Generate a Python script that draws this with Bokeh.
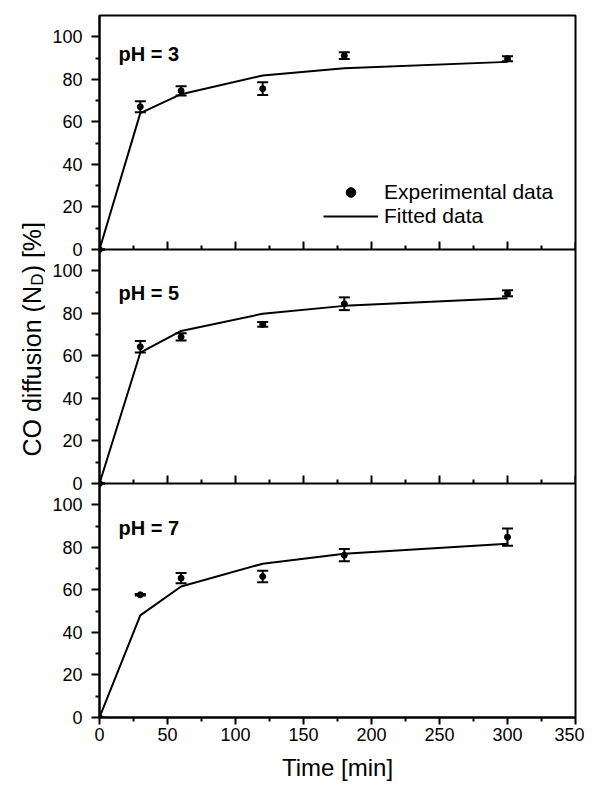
import math
from bokeh.plotting import figure
from bokeh.layouts import row
from bokeh.models import (Range1d, LinearAxis, FixedTicker, Span, Label, Legend,
                          LegendItem, ColumnDataSource, Whisker, TeeHead)
from bokeh.embed import file_html
from bokeh.resources import INLINE

# ---------------- data ----------------
time_min = [0, 30, 60, 120, 180, 300]

exp_ph3 = [0, 67.1, 74.6, 75.6, 91.1, 89.7]
err_ph3 = [0, 2.6, 2.2, 3.0, 1.6, 1.2]
fit_ph3 = [0, 64.1, 73.0, 81.8, 85.2, 88.2]

exp_ph5 = [0, 64.3, 68.9, 74.8, 84.5, 89.4]
err_ph5 = [0, 2.7, 1.7, 1.1, 3.0, 1.4]
fit_ph5 = [0, 61.5, 71.7, 79.8, 83.5, 87.1]

exp_ph7 = [0, 57.7, 65.5, 66.3, 76.3, 84.8]
err_ph7 = [0, 0.4, 2.4, 2.7, 2.9, 4.1]
fit_ph7 = [0, 48.0, 61.6, 72.3, 77.0, 81.7]

panel_titles = ["pH = 3", "pH = 5", "pH = 7"]

y_major = [0, 20, 40, 60, 80, 100]
y_minor = [10, 30, 50, 70, 90]
y_tick_labels = ["0", "20", "40", "60", "80", "100"]
panel_span = 110

x_major = [0, 50, 100, 150, 200, 250, 300, 350]
x_minor = [25, 75, 125, 175, 225, 275, 325]
x_tick_labels = ["0", "50", "100", "150", "200", "250", "300", "350"]

FONT = "Liberation Sans"
TOTAL_W, TOTAL_H = 584, 783
LAB_W = 45
BORDER_TOP, BORDER_BOTTOM = 15, 66

panels = [
    (panel_titles[0], exp_ph3, err_ph3, fit_ph3),
    (panel_titles[1], exp_ph5, err_ph5, fit_ph5),
    (panel_titles[2], exp_ph7, err_ph7, fit_ph7),
]
n_pan = len(panels)
total = panel_span * n_pan

p = figure(width=TOTAL_W - LAB_W, height=TOTAL_H, output_backend="svg",
           toolbar_location=None,
           x_range=Range1d(0, 350), y_range=Range1d(0, total),
           min_border_left=99 - LAB_W, min_border_right=9, min_border_top=BORDER_TOP,
           min_border_bottom=BORDER_BOTTOM, x_axis_type=None, y_axis_type=None)
p.grid.visible = False
p.outline_line_color = "black"
p.outline_line_width = 2
p.background_fill_color = "white"
p.border_fill_color = "white"

# y axis: one axis, ticks repeated per panel
yt_major, yt_minor, overrides = [], [], {}
for k in range(n_pan):
    off = panel_span * k
    for v, lab in zip(y_major, y_tick_labels):
        yt_major.append(v + off)
        overrides[v + off] = lab
    for v in y_minor:
        yt_minor.append(v + off)
yax = LinearAxis(ticker=FixedTicker(ticks=yt_major, minor_ticks=yt_minor),
                 major_label_overrides=overrides)
yax.axis_line_width = 2
yax.major_tick_line_width = 2
yax.minor_tick_line_width = 2
yax.major_tick_out = 8
yax.major_tick_in = 0
yax.minor_tick_out = 4
yax.minor_tick_in = 0
yax.major_label_standoff = 9
yax.major_label_text_font = FONT
yax.major_label_text_font_size = "18px"
yax.major_label_text_color = "black"
p.add_layout(yax, "left")

xticker = FixedTicker(ticks=x_major, minor_ticks=x_minor)
xax = LinearAxis(ticker=xticker, axis_label="Time [min]",
                 major_label_overrides=dict(zip(x_major, x_tick_labels)))
xax.axis_line_width = 2
xax.major_tick_line_width = 2
xax.minor_tick_line_width = 2
xax.major_tick_out = 7
xax.major_tick_in = 0
xax.minor_tick_out = 4
xax.minor_tick_in = 0
xax.major_label_standoff = 3
xax.axis_label_standoff = 10
xax.major_label_text_font = FONT
xax.major_label_text_font_size = "18px"
xax.major_label_text_color = "black"
xax.axis_label_text_font = FONT
xax.axis_label_text_font_size = "24px"
xax.axis_label_text_font_style = "normal"
xax.axis_label_text_color = "black"
p.add_layout(xax, "below")

title_y = [664, 425, 190]
legend_renderers = None
for i, (title, exp, err, fit) in enumerate(panels):
    k = n_pan - 1 - i
    rname = "panel%d" % k
    p.extra_y_ranges[rname] = Range1d(-panel_span * k, total - panel_span * k)
    src = ColumnDataSource(dict(t=time_min, y=exp, fit=fit,
                                lo=[a - b for a, b in zip(exp, err)],
                                hi=[a + b for a, b in zip(exp, err)]))
    ln = p.line("t", "fit", source=src, line_color="black", line_width=2,
                y_range_name=rname)
    wh = Whisker(source=src, base="t", lower="lo", upper="hi", dimension="height",
                 line_color="black", line_width=2, y_range_name=rname,
                 lower_head=TeeHead(size=11, line_width=2, line_color="black"),
                 upper_head=TeeHead(size=11, line_width=2, line_color="black"))
    p.add_layout(wh)
    sc = p.scatter("t", "y", source=src, size=6, color="black", y_range_name=rname)
    p.add_layout(Label(x=19, y=title_y[i], x_units="screen", y_units="screen",
                       text=title, text_font=FONT, text_font_size="20px",
                       text_font_style="bold", text_baseline="alphabetic",
                       text_color="black"))
    if k > 0:
        # panel boundary with inward (upward) ticks
        p.add_layout(Span(location=panel_span * k, dimension="width",
                          line_color="black", line_width=2))
        p.ray(x=x_major, y=[0] * len(x_major), length=8, length_units="screen",
              angle=90, angle_units="deg", line_color="black", line_width=2,
              y_range_name=rname)
        p.ray(x=x_minor, y=[0] * len(x_minor), length=4, length_units="screen",
              angle=90, angle_units="deg", line_color="black", line_width=2,
              y_range_name=rname)
    if i == 0:
        legend_renderers = (sc, ln)

legend = Legend(items=[LegendItem(label="Experimental data", renderers=[legend_renderers[0]]),
                       LegendItem(label="Fitted data", renderers=[legend_renderers[1]])],
                location=(224, 489), glyph_width=55, glyph_height=24, label_height=24,
                spacing=0, padding=0, margin=0, label_standoff=6,
                label_text_font=FONT, label_text_font_size="21px",
                label_text_color="black",
                border_line_alpha=0, background_fill_alpha=0)
p.add_layout(legend)

# ---------------- rotated y-axis label (separate strip so it is not clipped) ----------------
lab = figure(width=LAB_W, height=TOTAL_H, output_backend="svg", toolbar_location=None,
             x_range=Range1d(0, 1), y_range=Range1d(0, 1), min_border=0,
             x_axis_type=None, y_axis_type=None)
lab.grid.visible = False
lab.outline_line_color = None
lab.background_fill_color = "white"
lab.border_fill_color = "white"

# the row aligns this strip's frame with the main frame (bottom at TOTAL_H - BORDER_BOTTOM)
frame_bottom = TOTAL_H - BORDER_BOTTOM
ylab_x = 31.5
ylab_y0 = frame_bottom - 456
main_fs = 25
sub_fs = 17
part1 = "CO diffusion (N"
part_sub = "D"
part3 = ") [%]"
w1 = 6.835 * main_fs
wsub = 0.722 * sub_fs
for txt, xx, yy, fs in [(part1, ylab_x, ylab_y0, main_fs),
                        (part_sub, ylab_x + 5, ylab_y0 + w1, sub_fs),
                        (part3, ylab_x, ylab_y0 + w1 + wsub, main_fs)]:
    lab.add_layout(Label(x=xx, y=yy, x_units="screen", y_units="screen", text=txt,
                         angle=math.pi / 2, text_font=FONT, text_font_size="%dpx" % fs,
                         text_align="left", text_baseline="alphabetic",
                         text_color="black"))

layout = row(lab, p)
open("out.html", "w").write(file_html(layout, INLINE))
